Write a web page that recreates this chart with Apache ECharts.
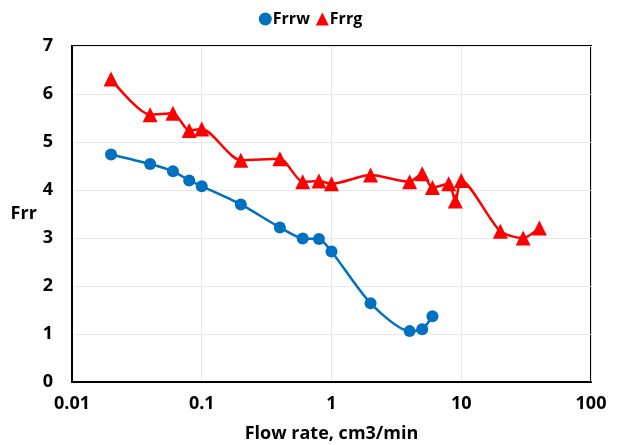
<!DOCTYPE html>
<html>
<head>
<meta charset="utf-8">
<script src="https://cdn.jsdelivr.net/npm/echarts@6/dist/echarts.min.js"></script>
<style>
  html, body { margin: 0; padding: 0; background: #fff; }
  #chart { width: 621px; height: 445px; }
</style>
</head>
<body>
<div id="chart"></div>
<script>
// flow rate (cm3/min) and Frr readings
const frrwFlow = [0.02, 0.04, 0.06, 0.08, 0.1, 0.2, 0.4, 0.6, 0.8, 1, 2, 4, 5, 6];
const frrwVals = [4.74, 4.54, 4.39, 4.2, 4.08, 3.7, 3.22, 2.99, 2.98, 2.72, 1.64, 1.06, 1.1, 1.37];

const frrgFlow = [0.02, 0.04, 0.06, 0.08, 0.1, 0.2, 0.4, 0.6, 0.8, 1, 2, 4, 5, 6, 8, 9, 10, 20, 30, 40];
const frrgVals = [6.31, 5.57, 5.6, 5.24, 5.27, 4.62, 4.65, 4.17, 4.19, 4.13, 4.31, 4.17, 4.34, 4.05, 4.13, 3.77, 4.2, 3.14, 3.0, 3.21];

const pairs = (xs, ys) => xs.map((x, i) => [x, ys[i]]);

const chart = echarts.init(document.getElementById('chart'));

const boldText = {
  fontFamily: 'Open Sans',
  fontWeight: 'bold',
  fontSize: 18,
  color: '#000'
};

const option = {
  backgroundColor: '#fff',
  animation: false,
  legend: {
    top: 6,
    left: 'center',
    itemGap: 6,
    itemWidth: 13,
    itemHeight: 13,
    textStyle: Object.assign({}, boldText, { fontSize: 16, padding: [0, 0, 0, -4] }),
    data: [
      { name: 'Frrw', icon: 'circle' },
      { name: 'Frrg', icon: 'triangle' }
    ]
  },
  grid: {
    left: 72,
    right: 30,
    top: 46,
    bottom: 63,
    outerBoundsMode: 'none',
    show: true,
    borderColor: '#000',
    borderWidth: 2
  },
  xAxis: {
    type: 'log',
    logBase: 10,
    min: 0.01,
    max: 100,
    name: 'Flow rate, cm3/min',
    nameLocation: 'middle',
    nameGap: 43,
    nameTextStyle: boldText,
    axisLine: { lineStyle: { color: '#000', width: 2 } },
    axisTick: { show: false },
    axisLabel: Object.assign({}, boldText, { margin: 13 }),
    splitLine: { show: true, lineStyle: { color: '#e8e8e8' } },
    minorSplitLine: { show: false }
  },
  yAxis: {
    type: 'value',
    min: 0,
    max: 7,
    interval: 1,
    name: 'Frr',
    nameLocation: 'middle',
    nameRotate: 0,
    nameGap: 32,
    nameTextStyle: Object.assign({}, boldText, { padding: [0, 0, 24, 0] }),
    axisLine: { show: true, lineStyle: { color: '#000', width: 2 } },
    axisTick: { show: false },
    axisLabel: Object.assign({}, boldText, { margin: 19 }),
    splitLine: { show: true, lineStyle: { color: '#e8e8e8' } }
  },
  series: [
    {
      name: 'Frrw',
      type: 'line',
      smooth: 0.25,
      symbol: 'circle',
      symbolSize: 12,
      data: pairs(frrwFlow, frrwVals),
      itemStyle: { color: '#0070C0' },
      lineStyle: { color: '#0070C0', width: 2.5 }
    },
    {
      name: 'Frrg',
      type: 'line',
      smooth: 0.25,
      symbol: 'triangle',
      symbolSize: 15,
      data: pairs(frrgFlow, frrgVals),
      itemStyle: { color: '#FF0000' },
      lineStyle: { color: '#FF0000', width: 2.5 }
    }
  ]
};

chart.setOption(option);
</script>
</body>
</html>
